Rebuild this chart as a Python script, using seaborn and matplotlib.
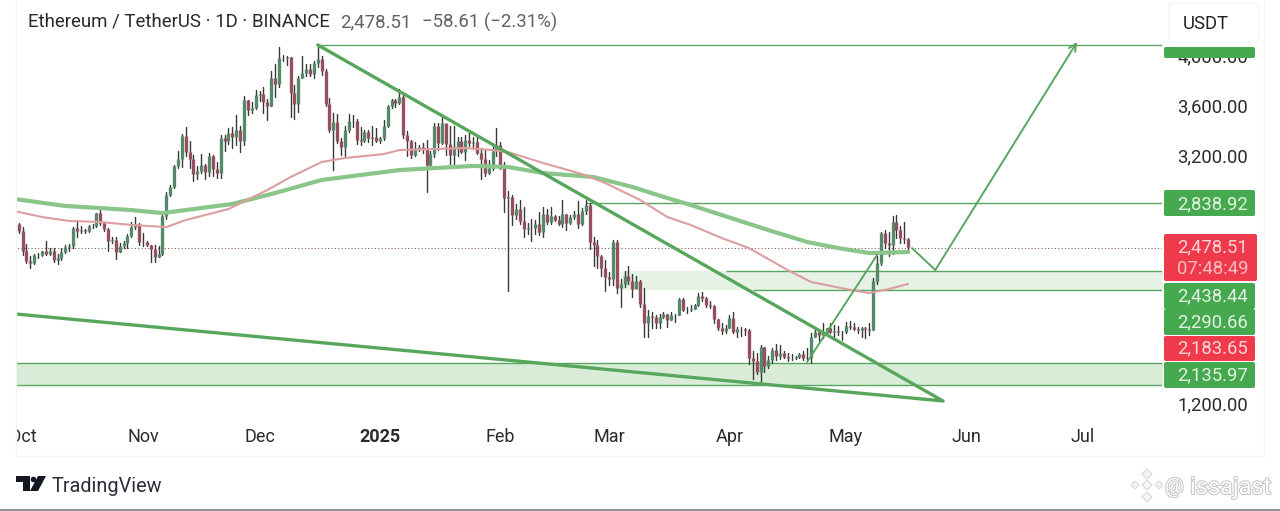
import numpy as np
import pandas as pd
import matplotlib
matplotlib.use("Agg")
import matplotlib.pyplot as plt
import matplotlib.patheffects as pe
from matplotlib.patches import FancyBboxPatch, Polygon, Circle
from matplotlib.transforms import Bbox, ScaledTranslation
import seaborn as sns

# ETH/USDT daily candles (Sep 30 2024 - May 17 2025)
first_open = 2659
close_sep = [2602]
high_sep = [2665]
low_sep = [2590]

close_oct = [2447, 2364, 2350, 2414, 2414, 2440, 2422, 2440, 2370, 2384, 2437, 2476, 2480, 2629, 2607, 2611,
             2605, 2642, 2647, 2747, 2667, 2621, 2525, 2534, 2439, 2480, 2507, 2567, 2638, 2661, 2518]
high_oct = [2640, 2500, 2405, 2420, 2425, 2445, 2520, 2465, 2465, 2420, 2465, 2490, 2500, 2640, 2690, 2645,
            2620, 2650, 2660, 2750, 2770, 2675, 2625, 2555, 2560, 2505, 2520, 2580, 2680, 2720, 2665]
low_oct = [2415, 2350, 2310, 2340, 2390, 2405, 2410, 2410, 2355, 2340, 2375, 2430, 2445, 2465, 2555, 2590,
           2585, 2600, 2630, 2640, 2650, 2605, 2445, 2510, 2380, 2435, 2465, 2465, 2560, 2620, 2495]

close_nov = [2512, 2494, 2456, 2398, 2422, 2722, 2896, 2962, 3126, 3183, 3371, 3243, 3187, 3061, 3091, 3132,
             3076, 3207, 3106, 3071, 3357, 3329, 3393, 3361, 3414, 3327, 3655, 3578, 3593, 3703]
high_nov = [2590, 2525, 2495, 2495, 2480, 2760, 2915, 2975, 3135, 3250, 3385, 3440, 3330, 3215, 3125, 3225,
            3145, 3235, 3220, 3160, 3375, 3375, 3430, 3445, 3540, 3450, 3690, 3660, 3640, 3740]
low_nov = [2480, 2480, 2355, 2355, 2395, 2415, 2700, 2890, 2950, 3110, 3120, 3205, 3110, 3010, 3020, 3075,
           3020, 3050, 3050, 3035, 3035, 3245, 3305, 3275, 3300, 3240, 3300, 3540, 3555, 3585]

close_dec = [3707, 3640, 3613, 3836, 3785, 4000, 3995, 4005, 3712, 3627, 3837, 3880, 3907, 3871, 3960, 3986,
             3893, 3627, 3420, 3480, 3330, 3280, 3420, 3493, 3490, 3335, 3330, 3400, 3350, 3360, 3330]
high_dec = [3730, 3760, 3670, 3890, 3945, 4085, 4020, 4010, 4005, 3780, 3855, 4010, 3950, 3950, 3975, 4108,
            4010, 3905, 3675, 3555, 3550, 3350, 3450, 3545, 3540, 3510, 3440, 3420, 3415, 3450, 3430]
low_dec = [3650, 3555, 3500, 3610, 3685, 3760, 3970, 3940, 3520, 3510, 3560, 3840, 3855, 3855, 3840, 3925,
           3860, 3610, 3400, 3095, 3310, 3220, 3210, 3400, 3445, 3305, 3300, 3320, 3320, 3300, 3320]

close_jan = [3350, 3450, 3610, 3655, 3635, 3685, 3380, 3325, 3220, 3265, 3283, 3267, 3135, 3225, 3450, 3310,
             3475, 3305, 3215, 3283, 3331, 3240, 3340, 3315, 3320, 3232, 3185, 3075, 3113, 3250, 3300]
high_jan = [3365, 3495, 3620, 3670, 3670, 3745, 3700, 3410, 3340, 3320, 3300, 3310, 3340, 3250, 3470, 3475,
            3525, 3450, 3450, 3450, 3365, 3360, 3375, 3420, 3365, 3360, 3270, 3260, 3180, 3280, 3435]
low_jan = [3310, 3340, 3440, 3595, 3600, 3625, 3355, 3210, 3190, 3210, 3245, 3235, 2920, 3125, 3200, 3260,
           3305, 3220, 3140, 3140, 3205, 3235, 3180, 3290, 3265, 3225, 3020, 3050, 3060, 3095, 3210]

close_feb = [3115, 2870, 2880, 2730, 2785, 2685, 2620, 2630, 2630, 2660, 2600, 2740, 2675, 2725, 2690, 2660,
             2745, 2670, 2715, 2740, 2660, 2765, 2815, 2515, 2490, 2405, 2305, 2235]
high_feb = [3320, 3160, 2925, 2895, 2825, 2855, 2795, 2665, 2700, 2690, 2755, 2795, 2780, 2795, 2735, 2725,
            2850, 2745, 2735, 2765, 2845, 2790, 2855, 2830, 2560, 2530, 2410, 2370]
low_feb = [3100, 2760, 2125, 2650, 2700, 2660, 2560, 2580, 2520, 2580, 2570, 2560, 2660, 2660, 2685, 2655,
           2640, 2610, 2660, 2700, 2625, 2655, 2745, 2460, 2320, 2310, 2240, 2120]

close_mar = [2215, 2515, 2145, 2175, 2240, 2200, 2140, 2205, 2020, 1865, 1920, 1910, 1865, 1910, 1935, 1885,
             1930, 1930, 2055, 1965, 1965, 1980, 2005, 2080, 2065, 2010, 2000, 1895, 1825, 1800, 1820]
high_mar = [2275, 2530, 2535, 2220, 2280, 2320, 2260, 2240, 2210, 2145, 1965, 1955, 1925, 1940, 1950, 1940,
            1955, 1935, 2065, 2065, 1995, 2010, 2020, 2105, 2110, 2075, 2040, 2005, 1900, 1860, 1850]
low_mar = [2170, 2170, 2105, 1995, 2150, 2180, 2075, 2170, 1995, 1750, 1755, 1825, 1820, 1825, 1905, 1830,
           1885, 1870, 1925, 1960, 1945, 1960, 1975, 2000, 2040, 1995, 1985, 1860, 1810, 1775, 1785]

close_apr = [1905, 1795, 1815, 1815, 1805, 1580, 1555, 1470, 1670, 1520, 1565, 1645, 1595, 1625, 1590, 1580,
             1585, 1590, 1615, 1580, 1580, 1755, 1795, 1770, 1785, 1820, 1790, 1800, 1795, 1790]
high_apr = [1925, 1955, 1835, 1830, 1820, 1815, 1640, 1620, 1690, 1670, 1595, 1660, 1695, 1690, 1640, 1620,
            1615, 1600, 1625, 1640, 1660, 1785, 1830, 1800, 1860, 1825, 1860, 1845, 1840, 1800]
low_apr = [1820, 1780, 1750, 1760, 1770, 1535, 1410, 1455, 1385, 1470, 1505, 1545, 1570, 1575, 1580, 1555,
           1565, 1575, 1585, 1570, 1565, 1540, 1755, 1720, 1740, 1770, 1780, 1745, 1770, 1730]

close_may = [1840, 1835, 1815, 1810, 1820, 1815, 1810, 2205, 2345, 2585, 2510, 2495, 2680, 2610, 2545, 2537.12, 2478.51]
high_may = [1875, 1880, 1860, 1830, 1835, 1830, 1860, 2225, 2405, 2600, 2610, 2600, 2725, 2730, 2645, 2680, 2545]
low_may = [1785, 1815, 1805, 1785, 1750, 1745, 1770, 1805, 2180, 2330, 2470, 2400, 2420, 2545, 2510, 2510, 2450]

# moving averages, as (day since Oct 1, price)
ema_green_day = [-2, 11, 20, 28, 36, 42, 54, 65, 77, 89, 97, 106, 116, 125, 134, 147, 157, 166, 172, 180, 192, 202, 210, 218, 228]
ema_green_price = [2862, 2806, 2789, 2773, 2749, 2773, 2822, 2910, 3015, 3063, 3095, 3111, 3128, 3120, 3071, 3039,
                   2959, 2870, 2814, 2733, 2612, 2516, 2467, 2427, 2435]
ema_red_day = [-2, 5, 12, 20, 28, 37, 42, 53, 63, 69, 77, 83, 93, 97, 106, 114, 121, 125, 134, 144, 150, 159, 166,
               172, 180, 187, 197, 203, 212, 218, 223, 228]
ema_red_price = [2765, 2717, 2685, 2677, 2653, 2636, 2693, 2781, 2934, 3039, 3160, 3192, 3224, 3256, 3264, 3272,
                 3256, 3240, 3152, 3063, 2991, 2854, 2717, 2653, 2548, 2467, 2290, 2194, 2137, 2105, 2137, 2178]

# drawings on the chart
wedge_day = [76, 237, -3]
wedge_price = [4102, 1236, 1940]
rise_day = [202, 220]
rise_price = [1550, 2411]
path_day = [229, 235, 271.5]
path_price = [2467, 2290, 4126]
top_level = 4102
res_level = 2830
last_price = 2467

month_days = [0, 31, 61, 92, 123, 151, 182, 212, 243, 273]
month_labels = ["Oct", "Nov", "Dec", "2025", "Feb", "Mar", "Apr", "May", "Jun", "Jul"]
price_ticks = [4000, 3600, 3200, 1200]
price_tick_labels = ["4,000.00", "3,600.00", "3,200.00", "1,200.00"]

closes = np.array(close_sep + close_oct + close_nov + close_dec + close_jan + close_feb + close_mar + close_apr + close_may)
highs = np.array(high_sep + high_oct + high_nov + high_dec + high_jan + high_feb + high_mar + high_apr + high_may)
lows = np.array(low_sep + low_oct + low_nov + low_dec + low_jan + low_feb + low_mar + low_apr + low_may)
opens = np.r_[first_open, closes[:-1]]
days = np.arange(len(closes)) - 1

GREEN = "#55896a"
RED = "#94505f"
WICK = "#383838"
LINE = "#5aa55f"
BOX_G = "#46a84f"
BOX_R = "#ef3a4c"

sns.set_theme(style="white")
plt.rcParams["font.family"] = ["Roboto", "DejaVu Sans"]
plt.rcParams["text.color"] = "#222222"


def fx(px):
    return px / 1280


def fy(py):
    return 1 - py / 511


def px_box(x0, y0, x1, y1, color):
    fig.add_artist(FancyBboxPatch((x0 + 1, y0 + 1), x1 - x0 - 2, y1 - y0 - 2, boxstyle="round,pad=1,rounding_size=2",
                                  fc=color, ec="none", transform=to_fig, zorder=3))


fig = plt.figure(figsize=(12.8, 5.11), dpi=100)
to_fig = matplotlib.transforms.Affine2D().scale(1 / 1280, -1 / 511).translate(0, 1) + fig.transFigure

ax = fig.add_axes([fx(16), fy(420), fx(1162 - 16), 420 / 511])
ax.set_xlim(-1.70, 293.36)
ax.set_ylim(1083, 4464)
ax.patch.set_alpha(0)
sns.despine(ax=ax, left=True, bottom=True, top=True, right=True)

# frame of the chart pane
fig.add_artist(plt.Line2D([16, 16, 1264, 1264], [0, 456, 456, 0], color="#f1f2f4", lw=0.9, transform=to_fig))
fig.add_artist(plt.Line2D([0, 1280], [510, 510], color="#8f8f8f", lw=1.4, transform=to_fig))

# zones
ax.fill_between([-3, 294], 1365, 1542, color="#d9ecd8", lw=0, zorder=1)
ax.fill_between([154, 294], 2129, 2282, color="#e6f2e5", lw=0, zorder=1)
ax.hlines([1365, 1542], -3, 294, color=LINE, lw=1.0, zorder=2)
ax.hlines(2282, 181, 294, color=LINE, lw=1.0, zorder=2)
ax.hlines(2129, 188, 294, color=LINE, lw=1.0, zorder=2)
ax.hlines(top_level, 76, 294, color=LINE, lw=1.0, zorder=2)
ax.hlines(res_level, 145, 294, color=LINE, lw=1.0, zorder=2)
ax.hlines(last_price, -3, 294, color="#8a5a5a", lw=0.8, linestyles=(0, (1, 2)), zorder=2)

# candles
wicks = pd.DataFrame({"day": np.r_[days, days], "price": np.r_[lows, highs]})
sns.lineplot(data=wicks, x="day", y="price", units="day", estimator=None, color=WICK, lw=1.0, ax=ax, zorder=3, legend=False)
bodies = pd.DataFrame({"day": np.r_[days, days], "price": np.r_[opens, closes], "up": np.r_[closes >= opens, closes >= opens]})
for is_up, col in [(True, GREEN), (False, RED)]:
    sns.lineplot(data=bodies[bodies["up"] == is_up], x="day", y="price", units="day", estimator=None, color=col, lw=2.4,
                 solid_capstyle="butt", ax=ax, zorder=4, legend=False)

# moving averages
sns.lineplot(x=ema_green_day, y=ema_green_price, color="#8ac58a", lw=3.0, ax=ax, zorder=5, sort=False, errorbar=None)
sns.lineplot(x=ema_red_day, y=ema_red_price, color="#dc9ea0", lw=1.5, ax=ax, zorder=5, sort=False, errorbar=None)

# trend lines and projected path
sns.lineplot(x=wedge_day, y=wedge_price, color="#58a65c", lw=2.4, ax=ax, zorder=6, sort=False, errorbar=None)
sns.lineplot(x=rise_day, y=rise_price, color=LINE, lw=1.4, ax=ax, zorder=6, sort=False, errorbar=None)
sns.lineplot(x=path_day[:2], y=path_price[:2], color=LINE, lw=1.4, ax=ax, zorder=6, sort=False, errorbar=None)
ax.annotate("", xy=(path_day[2], path_price[2]), xytext=(path_day[1], path_price[1]),
            arrowprops=dict(arrowstyle="->", color=LINE, lw=1.4, mutation_scale=13, shrinkA=0, shrinkB=0), zorder=6)

ax.set_xlabel("")
ax.set_ylabel("")
ax.set_xticks(month_days, month_labels)
ax.yaxis.tick_right()
ax.set_yticks(price_ticks, price_tick_labels)
ax.tick_params(axis="y", length=0, pad=11, labelsize=13.3, labelcolor="#2b2b2b")
ax.tick_params(axis="x", length=0, pad=6, labelsize=13, labelcolor="#2b2b2b")
# scale labels sit a little above their price on the reference
nudge = ScaledTranslation(0, 2 / 100, fig.dpi_scale_trans)
for tick in ax.yaxis.get_major_ticks():
    tick.label2.set_transform(tick.label2.get_transform() + nudge)
clip = Bbox([[16, 0], [1280, 511]])
for lbl in ax.get_xticklabels():
    lbl.set_clip_on(True)
    lbl.set_clip_box(clip)
    if lbl.get_text() == "2025":
        lbl.set_fontweight("bold")

# price labels on the scale
px_box(1164, 47, 1255, 58, BOX_G)
labels = [("2,838.92", 190, 216, 202, BOX_G, "#dff3df"), ("2,438.44", 283, 309, 294, BOX_G, "#dff3df"),
          ("2,290.66", 309, 335, 320, BOX_G, "#dff3df"), ("2,183.65", 336, 361, 346, BOX_R, "#fbd3d7"),
          ("2,135.97", 362, 388, 373, BOX_G, "#dff3df")]
for txt, y0, y1, yc, col, tc in labels:
    px_box(1164, y0, 1255, y1, col)
    fig.text(fx(1248), fy(yc), txt, ha="right", va="center_baseline", fontsize=13.3, color=tc, zorder=4)
px_box(1164, 234, 1257, 281, BOX_R)
fig.text(fx(1248), fy(245), "2,478.51", ha="right", va="center_baseline", fontsize=13.3, color="#fbd3d7", zorder=4)
fig.text(fx(1248), fy(267), "07:48:49", ha="right", va="center_baseline", fontsize=13.3, color="#f9bcc3", zorder=4)

# currency button
fig.add_artist(FancyBboxPatch((1170, 4), 88, 37, boxstyle="round,pad=1,rounding_size=4", fc="white", ec="#f0f1f3", lw=0.8,
                              transform=to_fig, zorder=3))
fig.text(fx(1206), fy(22), "USDT", ha="center", va="center_baseline", fontsize=13.3, color="#222222", zorder=4)

# header
fig.text(fx(28), fy(20), "Ethereum / TetherUS · 1D · BINANCE", va="center_baseline", fontsize=13.4, color="#2a2a2a")
fig.text(fx(340), fy(20), "2,478.51", va="center_baseline", fontsize=13.4, color="#5f6368")
fig.text(fx(422), fy(20), "−58.61 (−2.31%)", va="center_baseline", fontsize=13.4, color="#5f6368")

# TradingView logo
fig.add_artist(Polygon([(16, 476), (30, 476), (30, 491), (23, 491), (23, 482), (16, 482)], fc="#131722", ec="none", transform=to_fig))
fig.add_artist(Circle((33.5, 479.5), 2.8, fc="#131722", ec="none", transform=to_fig))
fig.add_artist(Polygon([(38, 476), (46, 476), (38, 491), (30, 491)], fc="#131722", ec="none", transform=to_fig))
fig.text(fx(52), fy(484), "TradingView", va="center_baseline", fontsize=14.3, color="#2a2e39")

# watermark
for cx, cy, r in [(1147, 474, 5), (1135, 485, 4), (1159, 485, 4), (1147, 485, 5), (1147, 497, 5)]:
    fig.add_artist(Polygon([(cx - r, cy), (cx, cy - r), (cx + r, cy), (cx, cy + r)], fc="#f4f4f4", ec="#d5d5d5", lw=0.7, transform=to_fig))
stroke = [pe.withStroke(linewidth=1.4, foreground="#c2c2c2")]
fig.text(fx(1165), fy(485), "@", va="center_baseline", fontsize=15, color="white", path_effects=stroke)
fig.text(fx(1190), fy(485), "issajast", va="center_baseline", fontsize=17, color="white", path_effects=stroke)

fig.savefig("out.png", dpi=100)
